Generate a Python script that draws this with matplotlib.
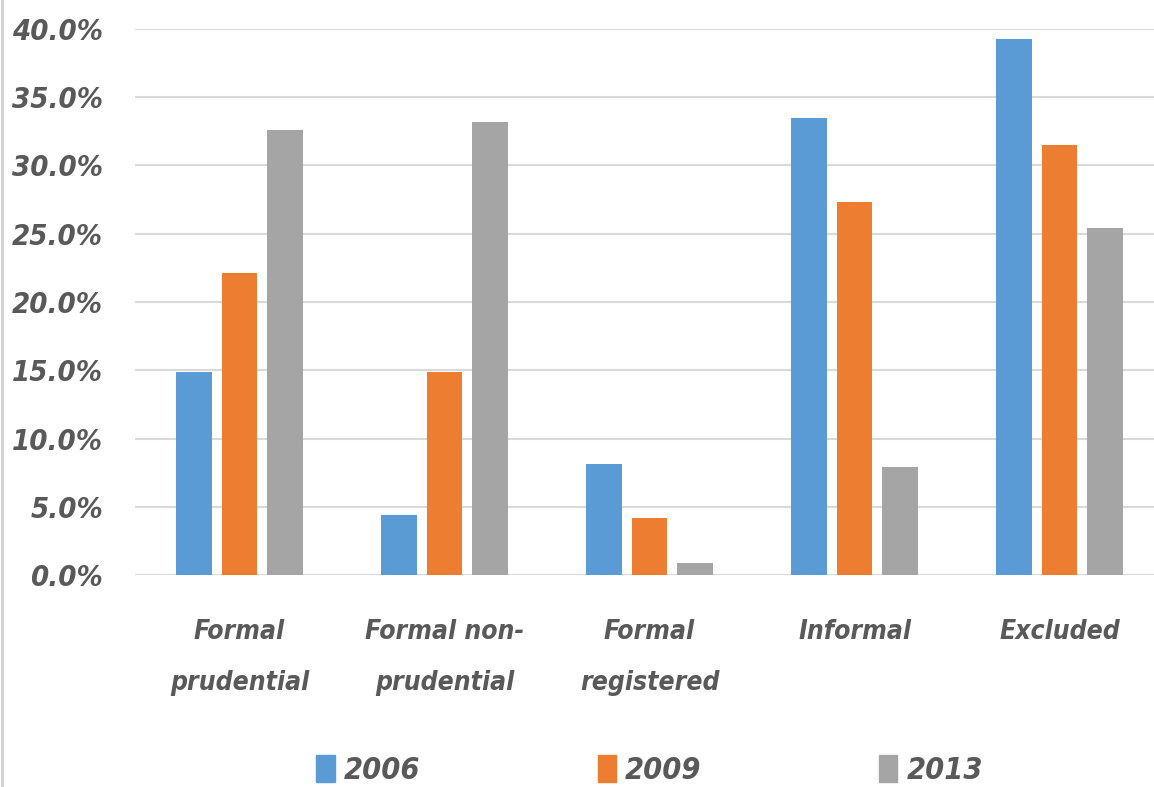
import matplotlib
matplotlib.use("Agg")
import matplotlib.pyplot as plt
import numpy as np
from matplotlib.ticker import FuncFormatter
from matplotlib.patches import Patch

categories = ["Formal\nprudential", "Formal non-\nprudential", "Formal\nregistered", "Informal", "Excluded"]
years = ["2006", "2009", "2013"]
v2006 = [14.9, 4.4, 8.1, 33.5, 39.3]
v2009 = [22.1, 14.9, 4.2, 27.3, 31.5]
v2013 = [32.6, 33.2, 0.9, 7.9, 25.4]
colors = ["#5b9bd5", "#ed7d31", "#a5a5a5"]

plt.rcParams["font.family"] = ["DejaVu Sans"]
plt.rcParams["font.stretch"] = "condensed"
text_color = "#595959"

fig = plt.figure(figsize=(11.54, 7.87), dpi=100)
ax = fig.add_axes([135 / 1154, 212 / 787, 1025 / 1154, 546 / 787])

x = np.arange(len(categories))
width = 0.175
step = 0.222
for i, (vals, c) in enumerate(zip([v2006, v2009, v2013], colors)):
    ax.bar(x + (i - 1) * step, np.array(vals) / 100, width=width, color=c, zorder=3, label=years[i])

ax.set_xlim(-0.51, 4.49)
ax.set_ylim(0, 0.40)
ax.set_yticks(np.arange(0, 0.401, 0.05))
ax.yaxis.set_major_formatter(FuncFormatter(lambda v, _: f"{v * 100:.1f}%"))
ax.grid(axis="y", color="#d9d9d9", linewidth=1.5, zorder=0)
for s in ax.spines.values():
    s.set_visible(False)
ax.tick_params(axis="y", length=0, pad=23, labelsize=21, labelcolor=text_color)
ax.tick_params(axis="x", length=0, pad=32, labelsize=19, labelcolor=text_color)
ax.set_xticks(x)
ax.set_xticklabels(categories, linespacing=2.25)
for lab in ax.get_yticklabels() + ax.get_xticklabels():
    lab.set_fontweight("bold")
    lab.set_fontstyle("italic")
    lab.set_fontstretch("condensed")

handles = [Patch(color=c) for c in colors]
leg = fig.legend(handles, years, loc="center", bbox_to_anchor=(0.563, 0.022), ncol=3,
                 frameon=False, handlelength=0.6, handleheight=1.0, columnspacing=5.8,
                 handletextpad=0.3,
                 prop={"size": 22, "weight": "bold", "style": "italic", "stretch": "condensed"})
for t in leg.get_texts():
    t.set_color(text_color)

fig.add_artist(plt.Line2D([0.002, 0.002], [0, 1], color="#d0d0d0", linewidth=2))

fig.savefig("out.png", dpi=100)
